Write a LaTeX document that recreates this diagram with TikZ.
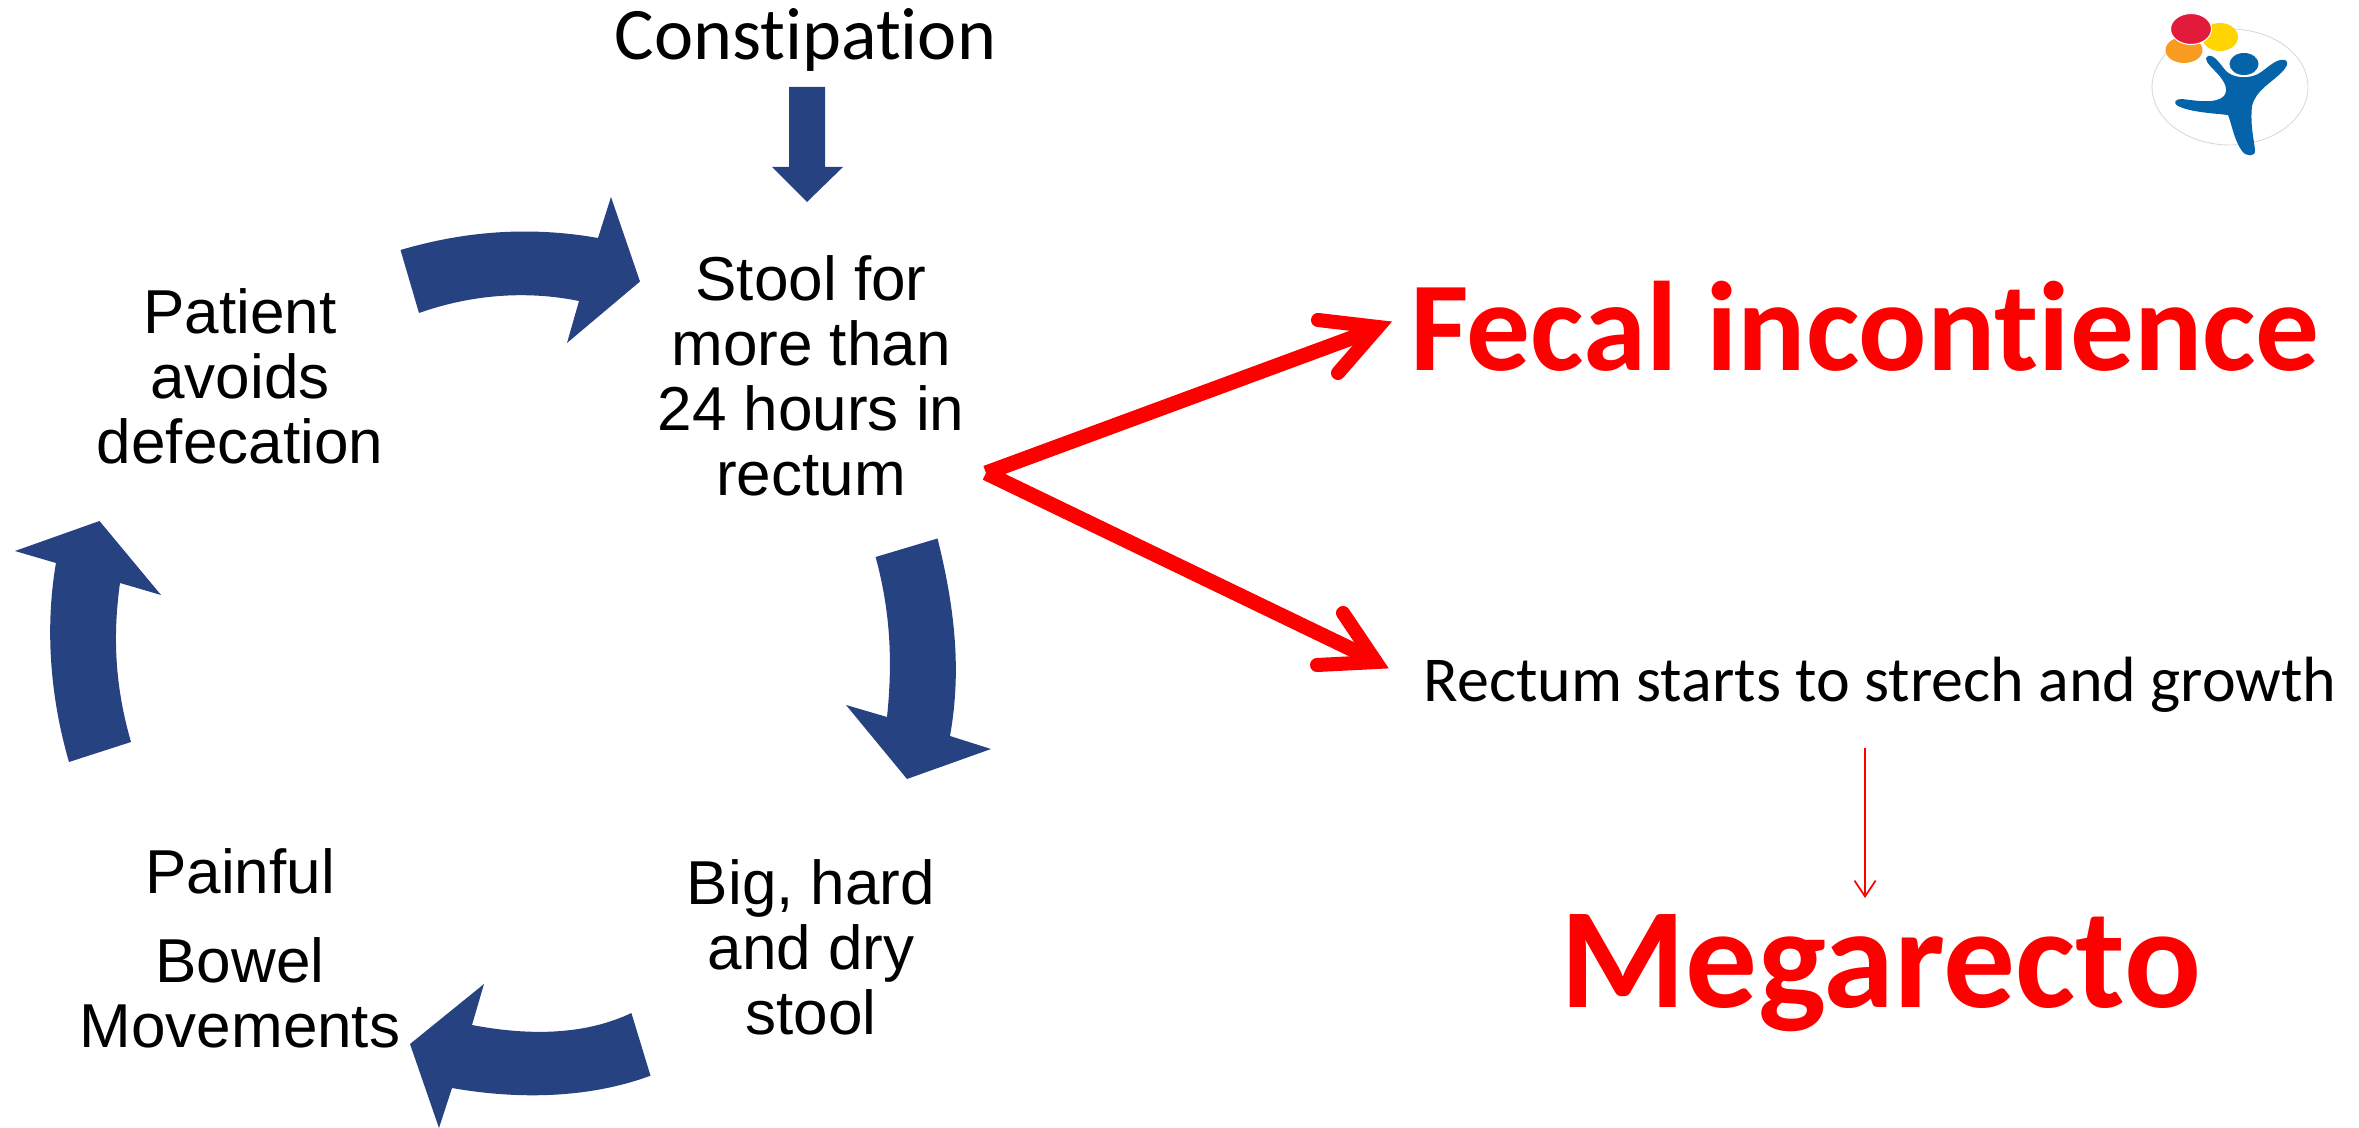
\documentclass[tikz,border=0pt]{standalone}
\usepackage{fontspec}
\setmainfont{Liberation Sans}
\newfontfamily\calib[Ligatures=NoCommon]{Carlito}
\usetikzlibrary{arrows.meta}
\definecolor{blockblue}{HTML}{264281}
\definecolor{logoblue}{HTML}{0563AA}
\definecolor{logored}{HTML}{E31B3A}
\definecolor{logoyellow}{HTML}{FFD400}
\definecolor{logoorange}{HTML}{F99B20}
\tikzset{
  x=0.02cm,y=-0.02cm,
  block/.style={fill=blockblue,draw=none},
  cyc/.style={font=\fontsize{35.3}{37}\selectfont,align=center,inner sep=0pt},
  redline/.style={draw=red,line width=8.5pt},
  redbarb/.style={draw=red,line width=8pt,line cap=round,line join=miter,miter limit=10},
  bigred/.style={text=red,inner sep=0pt},
  calibtext/.style={inner sep=0pt},
}
\begin{document}
\begin{tikzpicture}
\useasboundingbox (0,0) rectangle (2359,1128);
% text nodes
\node[calibtext,font=\calib\fontsize{42.2}{50}\selectfont] (constipation) at (805.5,40) {Constipation};
\node[cyc] (stool) at (811,376) {Stool for\\more than\\24 hours in\\rectum};
\node[cyc] (patient) at (240,376) {Patient\\avoids\\defecation};
\node[cyc] (big) at (811,947) {Big, hard\\and dry\\stool};
\node[cyc] (painful) at (240,871) {Painful};
\node[cyc] (bowel) at (240,993) {Bowel\\Movements};
\node[bigred,font=\calib\bfseries\fontsize{72.5}{80}\selectfont] (fecal) at (1865,326) {Fecal incontience};
\node[calibtext,font=\calib\fontsize{36.4}{44}\selectfont] (rectum) at (1880,685) {Rectum starts to strech and growth};
\node[bigred,font=\calib\bfseries\fontsize{81.6}{90}\selectfont] (mega) at (1881,973) {Megarecto};
% down arrow
\path[block] (789,87) -- (825,87) -- (825,167) -- (843,167) -- (807,202) -- (772,167) -- (789,167) -- cycle;
% cycle arrows
\path[block] (400.5,250) .. controls (465,231) and (530,226) .. (598,238) -- (611,197) -- (640,281.5) -- (567,343) -- (579,301) .. controls (525,290) and (470,295) .. (419,313) -- cycle;
\path[block] (937.5,538.5) .. controls (958,620) and (960,680) .. (950,736) -- (991,749) -- (907,779) -- (846,705) -- (887,717) .. controls (893,660) and (890,610) .. (875.6,557) -- cycle;
\path[block] (650.5,1075.7) .. controls (590,1098) and (520,1100) .. (452,1088) -- (439,1128) -- (410,1044) -- (484,984) -- (472,1025) .. controls (530,1036) and (585,1035) .. (631.4,1013) -- cycle;
\path[block] (69,762) .. controls (48,690) and (46,620) .. (56,563) -- (15,551) -- (99.5,521) -- (161,595) -- (120,583) .. controls (112,640) and (116,690) .. (131,742) -- cycle;
% red connectors
\coordinate (junction) at (986,473);
\coordinate (tipA) at (1376,329);
\coordinate (tipB) at (1376,661);
\draw[redline] (junction) -- (tipA);
\draw[redline] (junction) -- (tipB);
\coordinate (a1) at (1318,320);
\coordinate (a2) at (1338,373);
\coordinate (a3) at (1378,327);
\coordinate (b1) at (1343,613);
\coordinate (b2) at (1317,665);
\coordinate (b3) at (1376,662);
\draw[redbarb] (a1) -- (a3) -- (a2);
\draw[redbarb] (b1) -- (b3) -- (b2);
% thin arrow
\coordinate (thinA) at (1865,748);
\coordinate (thinB) at (1865,898);
\draw[red,line width=1pt,-{Straight Barb[length=9pt,width=12pt]}] (thinA) -- (thinB);
% logo
\draw[black!15,line width=0.5pt] (2230,87) ellipse (78 and 58);
\fill[logoorange] (2184,50) ellipse (18.5 and 13);
\fill[logoyellow] (2220,37) ellipse (18 and 14);
\draw[white,line width=0.6pt,fill=logored] (2191,29) ellipse (20.5 and 15.5);
\fill[logoblue] (2244,64) ellipse (14.5 and 11);
\fill[logoblue] (2208,56) .. controls (2214,54) and (2220,64) .. (2226,71) .. controls (2232,77) and (2246,80) .. (2258,74) .. controls (2268,68) and (2276,58) .. (2285,60) .. controls (2290,62) and (2286,68) .. (2282,72) .. controls (2270,84) and (2256,90) .. (2252,106) .. controls (2250,125) and (2254,140) .. (2255,150) .. controls (2256,157) and (2246,157) .. (2242,151) .. controls (2234,140) and (2232,125) .. (2228,115) .. controls (2210,113) and (2190,112) .. (2178,106) .. controls (2172,102) and (2176,99) .. (2182,99) .. controls (2198,101) and (2216,104) .. (2224,96) .. controls (2230,88) and (2222,78) .. (2214,70) .. controls (2208,64) and (2203,58) .. (2208,56) -- cycle;
\end{tikzpicture}
\end{document}
